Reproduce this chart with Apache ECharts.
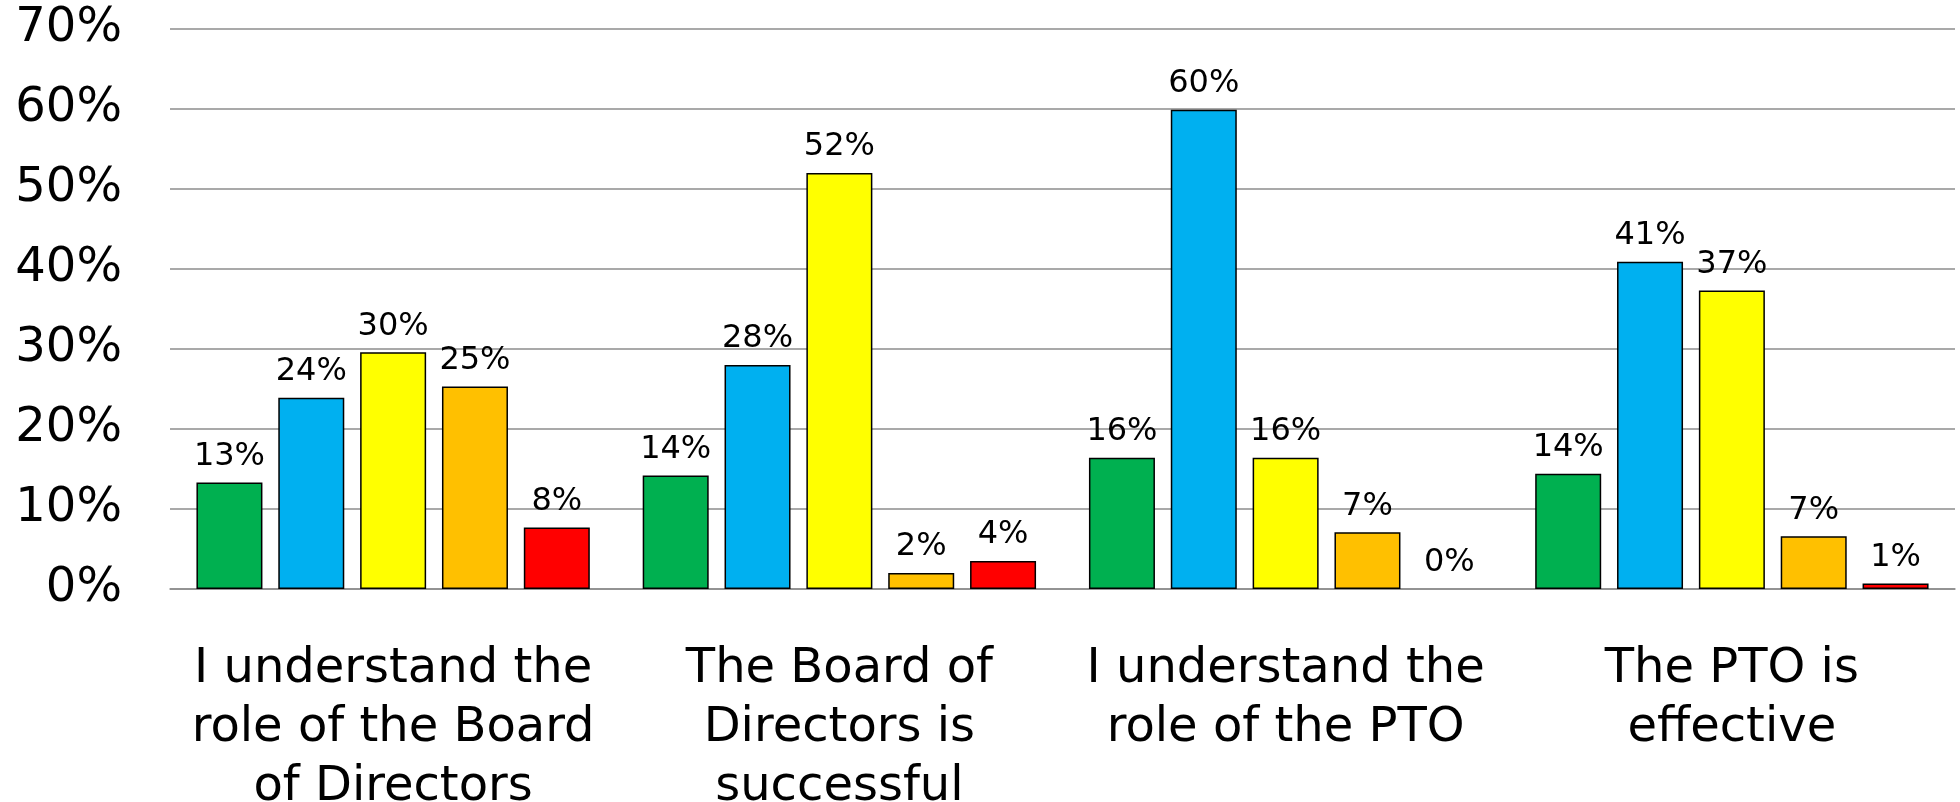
<!DOCTYPE html>
<html>
<head>
<meta charset="utf-8">
<title>Board of Directors / PTO survey</title>
<script src="https://cdn.jsdelivr.net/npm/echarts@6/dist/echarts.min.js"></script>
<style>
  html, body { margin: 0; padding: 0; background: #fff; }
  #chart { width: 1960px; height: 802px; }
</style>
</head>
<body>
<div id="chart"></div>
<script>
// categories (line breaks as in the picture)
const categories = [
  'I understand the\nrole of the Board\nof Directors',
  'The Board of\nDirectors is\nsuccessful',
  'I understand the\nrole of the PTO',
  'The PTO is\neffective'
]

// one answer per series, percent per category
const seriesNames = ['Strongly agree', 'Agree', 'Neutral', 'Disagree', 'Strongly disagree']
const seriesColors = ['#00B050', '#00B0F0', '#FFFF00', '#FFC000', '#FF0000']

const stronglyAgree = [13.3, 14.2, 16.4, 14.4]
const agree = [23.9, 28.0, 59.9, 40.9]
const neutral = [29.6, 52.0, 16.4, 37.3]
const disagree = [25.3, 2.0, 7.1, 6.6]
const stronglyDisagree = [7.7, 3.5, 0, 0.7]

const values = [stronglyAgree, agree, neutral, disagree, stronglyDisagree]

const chart = echarts.init(document.getElementById('chart'))

const series = seriesNames.map((name, i) => ({
  name: name,
  type: 'bar',
  // a zero bar gets no outline, like in the original
  data: values[i].map(v => v === 0 ? { value: v, itemStyle: { borderWidth: 0 } } : v),
  barWidth: 66,
  barGap: '24%',
  itemStyle: {
    color: seriesColors[i],
    borderColor: '#000',
    borderWidth: 1.5
  },
  label: {
    show: true,
    position: 'top',
    distance: 10,
    fontFamily: 'DejaVu Sans',
    fontSize: 32,
    color: '#000',
    formatter: p => Math.round(p.value) + '%'
  }
}))

chart.setOption({
  animation: false,
  grid: {
    left: 170,
    right: 5,
    top: 29,
    bottom: 213,
    containLabel: false,
    outerBoundsMode: 'none'
  },
  xAxis: {
    type: 'category',
    data: categories,
    axisLine: { show: true, lineStyle: { color: '#8c8c8c', width: 1.5 } },
    axisTick: { show: false },
    axisLabel: {
      interval: 0,
      margin: 51,
      fontFamily: 'DejaVu Sans',
      fontSize: 48,
      lineHeight: 59,
      color: '#000',
      align: 'center'
    }
  },
  yAxis: {
    type: 'value',
    min: 0,
    max: 70,
    interval: 10,
    axisLine: { show: false },
    axisTick: { show: false },
    splitLine: { lineStyle: { color: '#8c8c8c', width: 1.5 } },
    axisLabel: {
      margin: 48,
      fontFamily: 'DejaVu Sans',
      fontSize: 48,
      color: '#000',
      formatter: '{value}%'
    }
  },
  series: series
})
</script>
</body>
</html>
